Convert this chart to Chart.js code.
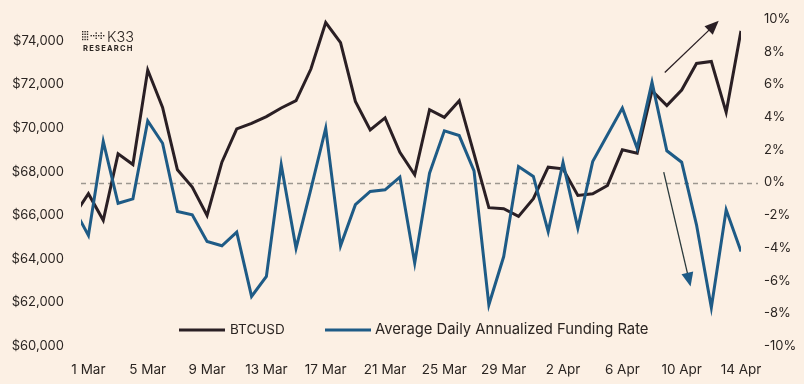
<!DOCTYPE html>
<html><head><meta charset="utf-8">
<script src="https://cdn.jsdelivr.net/npm/chart.js@4.4.1/dist/chart.umd.min.js"></script>
<style>html,body{margin:0;padding:0;background:#FCF0E4;}canvas{display:block}</style>
</head><body>
<canvas id="c" width="804" height="384"></canvas>
<script>
const dates = ["29 Feb",
 "1 Mar","2 Mar","3 Mar","4 Mar","5 Mar","6 Mar","7 Mar","8 Mar","9 Mar","10 Mar",
 "11 Mar","12 Mar","13 Mar","14 Mar","15 Mar","16 Mar","17 Mar","18 Mar","19 Mar","20 Mar",
 "21 Mar","22 Mar","23 Mar","24 Mar","25 Mar","26 Mar","27 Mar","28 Mar","29 Mar","30 Mar","31 Mar",
 "1 Apr","2 Apr","3 Apr","4 Apr","5 Apr","6 Apr","7 Apr","8 Apr","9 Apr","10 Apr",
 "11 Apr","12 Apr","13 Apr","14 Apr"];
const btcusd = [65950,
 66985,65764,68815,68326,72658,70947,68083,67288,65993,68431,
 69959,70215,70521,70919,71253,72704,74836,73920,71222,69913,
 70462,68888,67855,70842,70490,71253,68815,66345,66299,65947,66757,
 68202,68129,66907,66985,67365,68998,68845,71711,71025,71743,
 72960,73051,70718,74455];
const fundingRate = [-1.55,
 -3.24,2.51,-1.27,-1.00,3.77,2.40,-1.77,-1.98,-3.61,-3.87,
 -3.04,-6.97,-5.75,1.08,-4.02,-0.40,3.32,-3.87,-1.36,-0.55,
 -0.45,0.33,-4.93,0.57,3.16,2.87,0.71,-7.48,-4.53,0.98,0.37,
 -3.00,1.22,-2.79,1.28,2.92,4.55,2.10,6.13,1.94,1.24,
 -2.59,-7.65,-1.67,-4.22];
const xTickLabels = ["1 Mar","5 Mar","9 Mar","13 Mar","17 Mar","21 Mar","25 Mar","29 Mar","2 Apr","6 Apr","10 Apr","14 Apr"];
const btcTicks = [60000,62000,64000,66000,68000,70000,72000,74000];
const rateTicks = [-10,-8,-6,-4,-2,0,2,4,6,8,10];
const seriesNames = ["BTCUSD","Average Daily Annualized Funding Rate"];
// annotation arrows in data coordinates: [xIndex, rate%] start -> end
const arrows = [
  {from:[39.86,6.73], to:[43.5,9.89], line:'#2a1f24', head:'#2a1f24'},
  {from:[39.79,0.63], to:[41.6,-6.36], line:'#2b3a3c', head:'#1e5b86'}
];

const FONT = "Inter, 'Open Sans', sans-serif";
const TXT = '#2b2522';
const BTC_COLOR = '#2a1f24';
const FR_COLOR = '#1e5b86';

function drawArrow(ctx, x1, y1, x2, y2, lineColor, headColor, len, wid){
  const ang = Math.atan2(y2-y1, x2-x1);
  const bx = x2 - Math.cos(ang)*len, by = y2 - Math.sin(ang)*len;
  ctx.save();
  ctx.strokeStyle = lineColor; ctx.lineWidth = 1.3;
  ctx.beginPath(); ctx.moveTo(x1,y1); ctx.lineTo(bx+Math.cos(ang)*2, by+Math.sin(ang)*2); ctx.stroke();
  ctx.fillStyle = headColor;
  ctx.beginPath();
  ctx.moveTo(x2,y2);
  ctx.lineTo(bx + Math.sin(ang)*wid/2, by - Math.cos(ang)*wid/2);
  ctx.lineTo(bx - Math.sin(ang)*wid/2, by + Math.cos(ang)*wid/2);
  ctx.closePath(); ctx.fill();
  ctx.restore();
}

const overlay = {
  id:'overlay',
  beforeDatasetsDraw(chart){
    const {ctx, chartArea:a, scales} = chart;
    const y = Math.round(scales.yRate.getPixelForValue(0)) + 0.5;
    ctx.save();
    ctx.strokeStyle = '#9d978f'; ctx.lineWidth = 1.4; ctx.setLineDash([5,4]);
    ctx.beginPath(); ctx.moveTo(a.left, y); ctx.lineTo(a.right + 17, y); ctx.stroke();
    ctx.restore();
  },
  afterDatasetsDraw(chart){
    const {ctx, scales} = chart;
    const xs = scales.x, yr = scales.yRate;
    arrows.forEach(ar => {
      drawArrow(ctx, xs.getPixelForValue(ar.from[0]), yr.getPixelForValue(ar.from[1]),
                xs.getPixelForValue(ar.to[0]), yr.getPixelForValue(ar.to[1]), ar.line, ar.head, 14, 12);
    });
    // legend
    ctx.save();
    ctx.textBaseline = 'middle'; ctx.fillStyle = TXT;
    const ly = 330;
    ctx.lineWidth = 3;
    ctx.strokeStyle = BTC_COLOR; ctx.beginPath(); ctx.moveTo(179, ly); ctx.lineTo(225, ly); ctx.stroke();
    ctx.font = "13.5px " + FONT;
    ctx.fillText(seriesNames[0], 230, ly);
    ctx.strokeStyle = FR_COLOR; ctx.beginPath(); ctx.moveTo(325, ly); ctx.lineTo(371, ly); ctx.stroke();
    ctx.font = "14.8px " + FONT;
    ctx.fillText(seriesNames[1], 375, ly);
    ctx.restore();
    // logo
    ctx.save();
    ctx.fillStyle = '#2b2522';
    for (let c=0;c<3;c++) for (let r=0;r<4;r++) ctx.fillRect(82+c*2.4, 31+r*2.6, 1.4, 1.4);
    for (let i=0;i<6;i++) ctx.fillRect(90.5+i*2.5, 35, 1.4, 1.4);
    [95.5, 100.5].forEach(x=>{ctx.fillRect(x,32.4,1.4,1.4);ctx.fillRect(x,37.6,1.4,1.4);});
    ctx.font = "300 14.5px " + FONT; ctx.textBaseline = 'alphabetic';
    ctx.fillText("K33", 107, 41.5);
    ctx.font = "700 7.6px " + FONT;
    if ('letterSpacing' in ctx) ctx.letterSpacing = '1.2px';
    ctx.fillText("RESEARCH", 83, 50.5);
    ctx.restore();
  }
};

const bgPlugin = {
  id:'bg',
  beforeDraw(chart){
    const {ctx} = chart;
    ctx.save(); ctx.fillStyle = '#FCF0E4'; ctx.fillRect(0,0,chart.width,chart.height); ctx.restore();
  }
};

function noPad(s){ s.paddingTop = 0; s.paddingBottom = 0; s.paddingLeft = 0; s.paddingRight = 0; }

new Chart(document.getElementById('c'), {
  type:'line',
  data:{
    datasets:[
      {label:seriesNames[0], data:btcusd.map((v,i)=>({x:i, y:v})), yAxisID:'yBtc',
       borderColor:BTC_COLOR, borderWidth:3, pointRadius:0, tension:0, order:1, clip:0,
       borderJoinStyle:'miter', borderCapStyle:'butt'},
      {label:seriesNames[1], data:fundingRate.map((v,i)=>({x:i, y:v})), yAxisID:'yRate',
       borderColor:FR_COLOR, borderWidth:3, pointRadius:0, tension:0, order:0, clip:0,
       borderJoinStyle:'miter', borderCapStyle:'butt'}
    ]
  },
  options:{
    responsive:false, animation:false, devicePixelRatio:1,
    layout:{autoPadding:false, padding:{top:19,left:0,right:0,bottom:0}},
    plugins:{legend:{display:false}, tooltip:{enabled:false}},
    scales:{
      x:{type:'linear', min:0.5, max:dates.length-1,
         grid:{display:false, drawTicks:false}, border:{display:false},
         afterBuildTicks(s){ s.ticks = xTickLabels.map(l=>({value:dates.indexOf(l)})); },
         afterFit(s){ s.height = 38; noPad(s); },
         ticks:{padding:16, maxRotation:0, autoSkip:false, color:TXT, font:{family:FONT, size:13.5},
                callback:(v)=>dates[v]}},
      yBtc:{type:'linear', position:'left', min:60000, max:75000,
         grid:{display:false, drawTicks:false}, border:{display:false},
         afterBuildTicks(s){ s.ticks = btcTicks.map(v=>({value:v})); },
         afterFit(s){ s.width = 81; noPad(s); },
         ticks:{padding:17, color:TXT, font:{family:FONT, size:13},
                callback:(v)=>'$'+v.toLocaleString('en-US')}},
      yRate:{type:'linear', position:'right', min:-10, max:10,
         grid:{display:false, drawTicks:false}, border:{display:false},
         afterBuildTicks(s){ s.ticks = rateTicks.map(v=>({value:v})); },
         afterFit(s){ s.width = 63; noPad(s); },
         ticks:{padding:23, color:TXT, font:{family:FONT, size:13},
                callback:(v)=>v+'%'}}
    }
  },
  plugins:[bgPlugin, overlay]
});
</script>
</body></html>
